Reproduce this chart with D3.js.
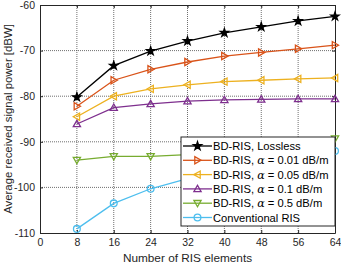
<!DOCTYPE html>
<html>
<head>
<meta charset="utf-8">
<script src="https://cdn.jsdelivr.net/npm/d3@7"></script>
<style>
body { margin: 0; background: #fff; }
text { font-family: "Liberation Sans", Arial, sans-serif; }
</style>
</head>
<body>
<div id="chart"></div>
<script>
var width = 341, height = 266;
var margin = {left: 40, right: 6, top: 5, bottom: 33};

// data
var elements = [8, 16, 24, 32, 40, 48, 56, 64];
var lossless = [-80.2, -73.3, -70.1, -67.9, -66.1, -64.8, -63.5, -62.5];
var alpha001 = [-82.2, -76.5, -74.1, -72.5, -71.2, -70.4, -69.6, -68.8];
var alpha005 = [-84.5, -80.0, -78.4, -77.5, -76.8, -76.5, -76.2, -76.0];
var alpha01 = [-86.1, -82.5, -81.7, -81.1, -80.8, -80.7, -80.6, -80.6];
var alpha05 = [-94.0, -93.2, -93.2, -92.8, -92.2, -91.4, -90.4, -89.3];
var conventional = [-109.1, -103.5, -100.3, -98.1, -96.4, -94.9, -93.4, -92.0];
var xTicks = [0, 8, 16, 24, 32, 40, 48, 56, 64];
var yTicks = [-110, -100, -90, -80, -70, -60];

var series = [
	{name: "BD-RIS, Lossless", values: lossless, color: "#000000", marker: "star"},
	{name: "0.01", values: alpha001, color: "#D95319", marker: "right"},
	{name: "0.05", values: alpha005, color: "#EDB120", marker: "left"},
	{name: "0.1", values: alpha01, color: "#7E2F8E", marker: "up"},
	{name: "0.5", values: alpha05, color: "#77AC30", marker: "down"},
	{name: "Conventional RIS", values: conventional, color: "#4DBEEE", marker: "circle"}
];

var svg = d3.select("#chart").append("svg")
	.attr("width", width)
	.attr("height", height);

var x = d3.scaleLinear().domain([0, 64]).range([margin.left, width - margin.right]);
var y = d3.scaleLinear().domain([-110, -60]).range([height - margin.bottom, margin.top]);

// grid
svg.append("g").selectAll("line")
	.data(xTicks.slice(1, -1))
	.enter().append("line")
	.attr("x1", function(d){ return x(d); })
	.attr("x2", function(d){ return x(d); })
	.attr("y1", y(-110)).attr("y2", y(-60))
	.attr("stroke", "#4a4a4a").attr("stroke-width", 0.8)
	.attr("stroke-dasharray", "1,1");
svg.append("g").selectAll("line")
	.data(yTicks.slice(1, -1))
	.enter().append("line")
	.attr("y1", function(d){ return y(d); })
	.attr("y2", function(d){ return y(d); })
	.attr("x1", x(0)).attr("x2", x(64))
	.attr("stroke", "#4a4a4a").attr("stroke-width", 0.8)
	.attr("stroke-dasharray", "1,1");

// axes, ticks pointing in
svg.append("g")
	.attr("transform", "translate(0," + y(-110) + ")")
	.call(d3.axisBottom(x).tickValues(xTicks).tickSizeInner(-3).tickSizeOuter(0).tickPadding(6));
svg.append("g")
	.attr("transform", "translate(" + x(0) + ",0)")
	.call(d3.axisLeft(y).tickValues(yTicks).tickSizeInner(-3).tickSizeOuter(0).tickPadding(5)
		.tickFormat(function(d){ return d; }));
svg.append("g")
	.attr("transform", "translate(0," + y(-60) + ")")
	.call(d3.axisTop(x).tickValues(xTicks).tickSizeInner(-3).tickSizeOuter(0).tickFormat(""));
svg.append("g")
	.attr("transform", "translate(" + x(64) + ",0)")
	.call(d3.axisRight(y).tickValues(yTicks).tickSizeInner(-3).tickSizeOuter(0).tickFormat(""));
svg.selectAll(".domain").attr("stroke", "#262626").attr("stroke-width", 1);
svg.selectAll(".tick line").attr("stroke", "#262626");
svg.selectAll(".tick text").attr("font-size", 10.5).attr("fill", "#262626")
	.style("font-family", "Liberation Sans, Arial, sans-serif");

// markers
function markerPath(type){
	if (type === "star") return d3.symbol().type(d3.symbolStar).size(21)();
	if (type === "circle") return d3.symbol().type(d3.symbolCircle).size(36)();
	var h = 3.6;
	if (type === "up") return "M0," + (-h) + "L" + h + "," + h * 0.75 + "L" + (-h) + "," + h * 0.75 + "Z";
	if (type === "down") return "M0," + h + "L" + h + "," + (-h * 0.75) + "L" + (-h) + "," + (-h * 0.75) + "Z";
	if (type === "right") return "M" + h + ",0L" + (-h * 0.75) + "," + h + "L" + (-h * 0.75) + "," + (-h) + "Z";
	if (type === "left") return "M" + (-h) + ",0L" + (h * 0.75) + "," + h + "L" + (h * 0.75) + "," + (-h) + "Z";
}

var line = d3.line()
	.x(function(d){ return x(d[0]); })
	.y(function(d){ return y(d[1]); });

series.forEach(function(s){
	var pts = elements.map(function(e, i){ return [e, s.values[i]]; });
	var g = svg.append("g");
	g.append("path")
		.datum(pts)
		.attr("d", line)
		.attr("fill", "none")
		.attr("stroke", s.color)
		.attr("stroke-width", 1.3);
	g.selectAll("path.m")
		.data(pts)
		.enter().append("path")
		.attr("class", "m")
		.attr("transform", function(d){ return "translate(" + x(d[0]) + "," + y(d[1]) + ")"; })
		.attr("d", markerPath(s.marker))
		.attr("fill", s.marker === "star" ? s.color : "none")
		.attr("stroke", s.color)
		.attr("stroke-width", 1.3);
});

// legend
var lx = 181, ly = 137, lw = 154, lh = 89, rowH = 14.3;
var legend = svg.append("g");
legend.append("rect")
	.attr("x", lx).attr("y", ly).attr("width", lw).attr("height", lh)
	.attr("fill", "#fff").attr("stroke", "#262626").attr("stroke-width", 1);
series.forEach(function(s, i){
	var cy = ly + 9 + i * rowH;
	legend.append("line")
		.attr("x1", lx + 2).attr("x2", lx + 31)
		.attr("y1", cy).attr("y2", cy)
		.attr("stroke", s.color).attr("stroke-width", 1.3);
	legend.append("path")
		.attr("transform", "translate(" + (lx + 16.5) + "," + cy + ")")
		.attr("d", markerPath(s.marker))
		.attr("fill", s.marker === "star" ? s.color : "none")
		.attr("stroke", s.color).attr("stroke-width", 1.3);
	var t = legend.append("text")
		.attr("x", lx + 32).attr("y", cy + 4)
		.attr("font-size", 11.2).attr("fill", "#000");
	if (s.name.indexOf("RIS") >= 0) {
		t.text(s.name);
	} else {
		t.append("tspan").text("BD-RIS, ");
		t.append("tspan").attr("font-style", "italic")
			.style("font-family", "DejaVu Serif, serif").text("\u03B1");
		t.append("tspan").text(" = " + s.name + " dB/m");
	}
});

// axis labels
svg.append("text")
	.attr("x", (x(0) + x(64)) / 2).attr("y", 262)
	.attr("text-anchor", "middle").attr("font-size", 11.8).attr("fill", "#262626")
	.text("Number of RIS elements");
svg.append("text")
	.attr("transform", "translate(12," + (y(-85)) + ") rotate(-90)")
	.attr("text-anchor", "middle").attr("font-size", 11.4).attr("fill", "#262626")
	.text("Average received signal power [dBW]");
</script>
</body>
</html>
